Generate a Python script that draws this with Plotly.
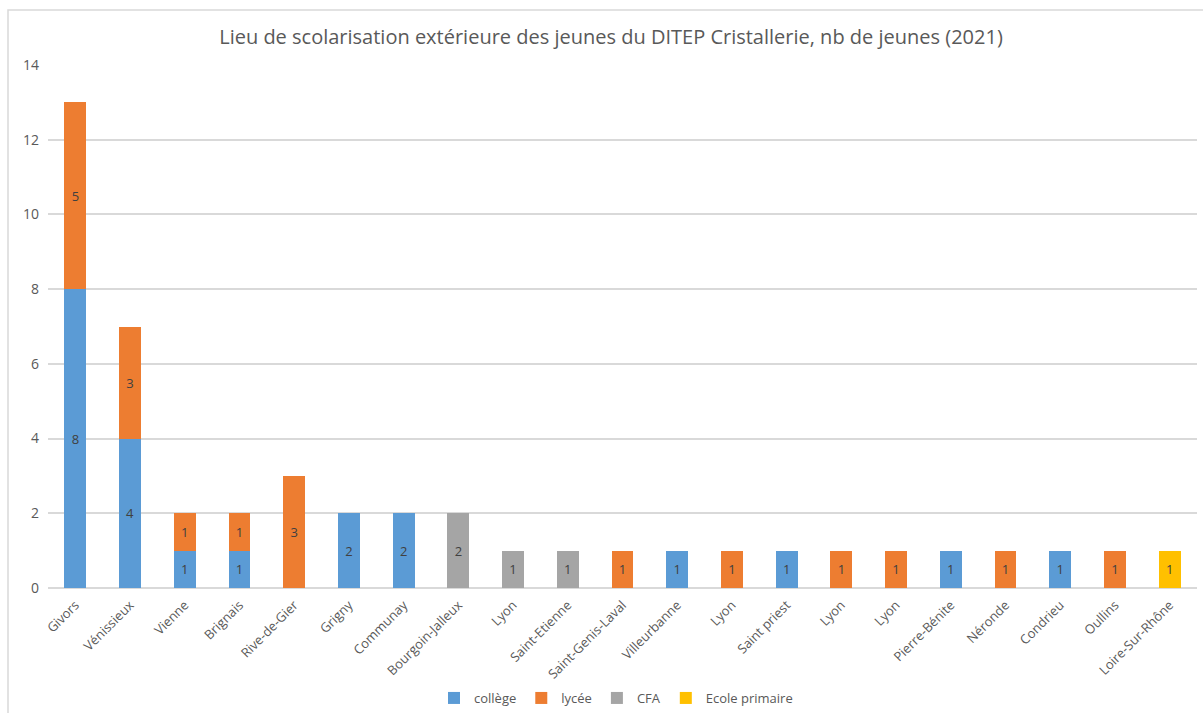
import plotly.graph_objects as go

categories = ["Givors", "Vénissieux", "Vienne", "Brignais", "Rive-de-Gier", "Grigny",
              "Communay", "Bourgoin-Jalleux", "Lyon", "Saint-Etienne", "Saint-Genis-Laval",
              "Villeurbanne", "Lyon", "Saint priest", "Lyon", "Lyon", "Pierre-Bénite",
              "Néronde", "Condrieu", "Oullins", "Loire-Sur-Rhône"]
college = [8, 4, 1, 1, None, 2, 2, None, None, None, None, 1, None, 1, None, None, 1, None, 1, None, None]
lycee = [5, 3, 1, 1, 3, None, None, None, None, None, 1, None, 1, None, 1, 1, None, 1, None, 1, None]
cfa = [None, None, None, None, None, None, None, 2, 1, 1, None, None, None, None, None, None, None, None, None, None, None]
primaire = [None] * 20 + [1]

series = [("collège", college, "#5B9BD5"), ("lycée", lycee, "#ED7D31"),
          ("CFA", cfa, "#A5A5A5"), ("Ecole primaire", primaire, "#FFC000")]

x = list(range(len(categories)))
font = "Open Sans"
fig = go.Figure()
for name, vals, col in series:
    fig.add_trace(go.Bar(
        x=x, y=vals, name=name, marker=dict(color=col, line=dict(width=0)),
        text=vals, texttemplate="%{text}", textposition="inside", insidetextanchor="middle",
        textfont=dict(color="#404040", size=13, family=font), textangle=0,
    ))

fig.update_layout(
    barmode="stack", bargap=0.6,
    width=1203, height=713,
    margin=dict(l=48, r=6, t=65, b=125),
    paper_bgcolor="white", plot_bgcolor="white",
    font=dict(family=font, color="#595959", size=12),
    title=dict(text="Lieu de scolarisation extérieure des jeunes du DITEP Cristallerie, nb de jeunes (2021)",
               x=611 / 1203, xanchor="center", y=1 - 37 / 713, yanchor="middle",
               font=dict(size=20, color="#595959", family=font)),
    legend=dict(orientation="h", x=616 / 1203, xanchor="center", xref="container",
                y=1 - 698 / 713, yanchor="middle", yref="container",
                font=dict(size=13, color="#595959"), itemwidth=30, traceorder="normal"),
    xaxis=dict(tickmode="array", tickvals=x, ticktext=categories, tickangle=-45,
               range=[-0.5, len(categories) - 0.5], showgrid=False, zeroline=False,
               showline=False, ticks="", tickfont=dict(size=13, color="#595959"),
               ticklabelstandoff=6, automargin=False),
    yaxis=dict(range=[0, 14], dtick=2, showgrid=True, gridcolor="#D9D9D9", gridwidth=1.5,
               zeroline=True, zerolinecolor="#D9D9D9", zerolinewidth=1.5, showline=False,
               ticks="", tickfont=dict(size=14, color="#595959"), ticklabelstandoff=8,
               automargin=False),
    shapes=[dict(type="rect", xref="paper", yref="paper",
                 x0=(8 - 48) / 1149, x1=1.2, y0=-0.5, y1=(588 - 10) / 523,
                 line=dict(color="#D9D9D9", width=1.5), fillcolor="rgba(0,0,0,0)", layer="below")],
)

fig.write_html("out.html")
